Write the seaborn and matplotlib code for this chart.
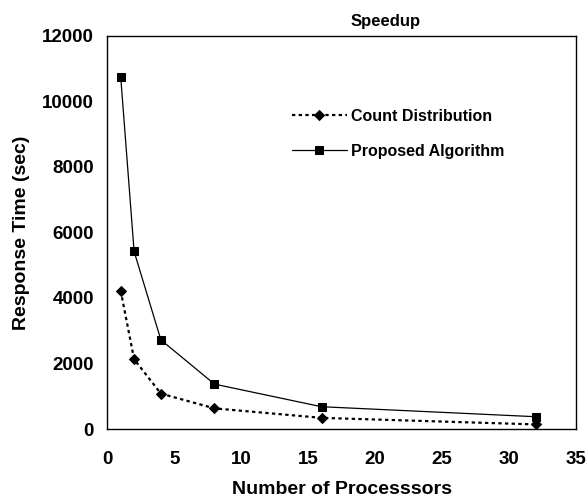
import matplotlib
matplotlib.use("Agg")
import matplotlib.pyplot as plt
import pandas as pd
import seaborn as sns

# values
processors = [1, 2, 4, 8, 16, 32]
count_distribution = [4220, 2130, 1080, 630, 340, 140]
proposed_algorithm = [10750, 5420, 2720, 1370, 680, 375]
series_names = ["Count Distribution", "Proposed Algorithm"]
x_ticks = [0, 5, 10, 15, 20, 25, 30, 35]
y_ticks = [0, 2000, 4000, 6000, 8000, 10000, 12000]

if __name__ == "__main__":
    df = pd.DataFrame(
        {
            "Number of Processsors": processors * 2,
            "Response Time (sec)": count_distribution + proposed_algorithm,
            "method": [series_names[0]] * len(processors)
            + [series_names[1]] * len(processors),
        }
    )

    sns.set_theme(style="white")
    plt.rcParams["font.family"] = ["Liberation Sans", "DejaVu Sans"]
    plt.rcParams["font.weight"] = "bold"
    plt.rcParams["text.color"] = "black"
    plt.rcParams["axes.labelcolor"] = "black"

    f = plt.figure(figsize=(5.88, 5.01), dpi=100)
    ax = f.add_axes([0.1825, 0.1437, 0.797, 0.785])

    sns.lineplot(
        data=df,
        x="Number of Processsors",
        y="Response Time (sec)",
        hue="method",
        style="method",
        palette={series_names[0]: "black", series_names[1]: "black"},
        markers={series_names[0]: "D", series_names[1]: "s"},
        dashes={series_names[0]: (1.5, 1.5), series_names[1]: ""},
        markeredgecolor="black",
        ax=ax,
    )
    for line in ax.lines:
        if line.get_marker() == "D":
            line.set_linewidth(1.6)
            line.set_markersize(5.5)
        else:
            line.set_linewidth(0.9)
            line.set_markersize(5.5)

    ax.set_xlim(0, 35)
    ax.set_ylim(0, 12000)
    ax.set_xticks(x_ticks)
    ax.set_yticks(y_ticks)
    for spine in ax.spines.values():
        spine.set_color("black")
        spine.set_linewidth(1.0)
    ax.tick_params(axis="both", direction="out", length=3.5, width=0.8,
                   colors="black", labelsize=13.5)
    ax.tick_params(axis="x", pad=12)
    ax.tick_params(axis="y", pad=6)
    for lab in ax.get_xticklabels() + ax.get_yticklabels():
        lab.set_fontweight("bold")

    ax.set_xlabel("Number of Processsors", fontsize=14, fontweight="bold",
                  labelpad=10, color="black")
    ax.set_ylabel("Response Time (sec)", fontsize=14, fontweight="bold",
                  labelpad=9, color="black")
    ax.set_title("Speedup", fontsize=12, fontweight="bold", x=0.593, pad=7,
                 color="black")

    handles, labels = ax.get_legend_handles_labels()
    leg = ax.legend(
        handles=handles,
        labels=labels,
        loc="center left",
        bbox_to_anchor=(0.381, 0.75),
        borderaxespad=0,
        frameon=False,
        handlelength=3.4,
        handletextpad=0.3,
        labelspacing=1.25,
        prop={"weight": "bold", "size": 11.5},
    )
    for t in leg.get_texts():
        t.set_color("black")

    f.savefig("out.png", dpi=100)
    plt.close()
